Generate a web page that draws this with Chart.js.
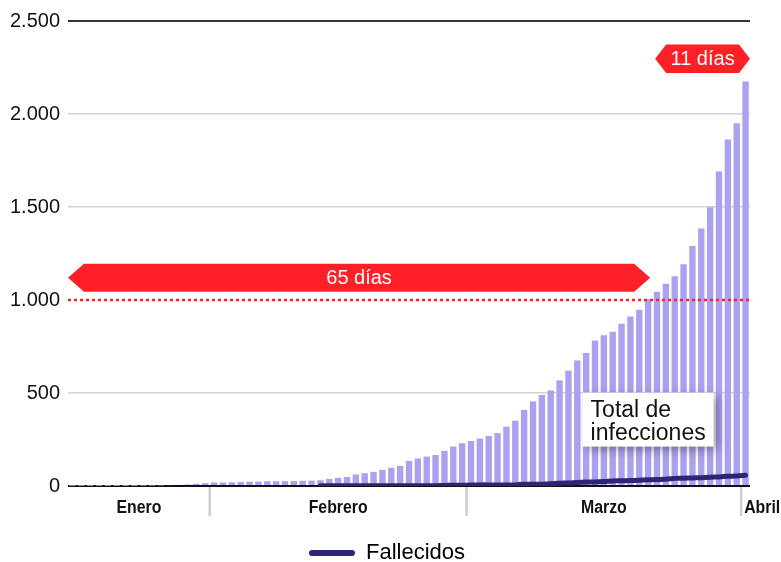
<!DOCTYPE html>
<html>
<head>
<meta charset="utf-8">
<script src="https://cdn.jsdelivr.net/npm/chart.js@4.4.1/dist/chart.umd.min.js"></script>
<style>
  html, body { margin: 0; padding: 0; background: #fff; }
</style>
</head>
<body>
<canvas id="chart" width="781" height="562"></canvas>
<script>
// dias del 16 de enero al 1 de abril
const dias = [
  '16 ene','17 ene','18 ene','19 ene','20 ene','21 ene','22 ene','23 ene','24 ene','25 ene','26 ene','27 ene','28 ene','29 ene','30 ene','31 ene',
  '1 feb','2 feb','3 feb','4 feb','5 feb','6 feb','7 feb','8 feb','9 feb','10 feb','11 feb','12 feb','13 feb','14 feb','15 feb',
  '16 feb','17 feb','18 feb','19 feb','20 feb','21 feb','22 feb','23 feb','24 feb','25 feb','26 feb','27 feb','28 feb','29 feb',
  '1 mar','2 mar','3 mar','4 mar','5 mar','6 mar','7 mar','8 mar','9 mar','10 mar','11 mar','12 mar','13 mar','14 mar','15 mar',
  '16 mar','17 mar','18 mar','19 mar','20 mar','21 mar','22 mar','23 mar','24 mar','25 mar','26 mar','27 mar','28 mar','29 mar','30 mar','31 mar',
  '1 abr'
];

const infecciones = [
  1, 1, 1, 1, 1, 1, 1, 1,
  2, 2, 3, 5, 6, 8, 11, 15,
  19, 19, 20, 22, 23, 24, 26, 26,
  26, 27, 28, 29, 31, 38, 44, 48,
  62, 69, 76, 87, 98, 108, 135, 148,
  158, 167, 189, 212, 230, 242, 255, 269,
  285, 319, 351, 409, 455, 489, 514, 568,
  620, 675, 715, 782, 811, 829, 872, 911,
  947, 1006, 1045, 1088, 1128, 1192, 1290, 1385,
  1498, 1691, 1863, 1950, 2175
];

const fallecidos = [
  null, null, null, null, null, null, null, null, null, null, null, null, null, null,
  null, null, null, null, null, null, null, null, null, null, null, null, null, null,
  1, 1, 1, 1, 1, 1, 1, 1, 1, 1, 1, 1, 1,
  2, 3, 4, 4, 5, 6, 6, 6, 6, 6,
  9, 9, 10, 12, 15, 16, 19, 21, 22, 24,
  27, 28, 29, 31, 33, 35, 36, 41, 42, 43,
  45, 47, 49, 52, 54, 58
];

const yTicks = [0, 500, 1000, 1500, 2000, 2500];
const meses = ['Enero', 'Febrero', 'Marzo', 'Abril'];
const inicioMes = [0, 16, 45, 76];

const ROJO = '#ff1f27';
const MORADO = '#aaa2f0';
const AZUL = '#2c2674';
const FUENTE = '"Liberation Sans", Arial, sans-serif';

function puntos(n) {
  return String(n).replace(/\B(?=(\d{3})+(?!\d))/g, '.');
}

function flecha(ctx, x1, x2, top, bottom, punta, texto) {
  const mid = (top + bottom) / 2;
  ctx.beginPath();
  ctx.moveTo(x1, mid);
  ctx.lineTo(x1 + punta, top);
  ctx.lineTo(x2 - punta, top);
  ctx.lineTo(x2, mid);
  ctx.lineTo(x2 - punta, bottom);
  ctx.lineTo(x1 + punta, bottom);
  ctx.closePath();
  ctx.fillStyle = ROJO;
  ctx.fill();
  ctx.fillStyle = '#fff';
  ctx.font = '20px ' + FUENTE;
  ctx.textAlign = 'center';
  ctx.textBaseline = 'middle';
  ctx.fillText(texto, (x1 + x2) / 2, mid + 1);
}

// texto estrecho para los meses
function textoEstrecho(ctx, txt, x, y, align) {
  const k = 0.88;
  ctx.save();
  ctx.translate(x, y);
  ctx.scale(k, 1);
  ctx.textAlign = align;
  ctx.fillText(txt, 0, 0);
  ctx.restore();
}

const anotaciones = {
  id: 'anotaciones',
  afterLayout(chart) {
    // la leyenda va centrada un poco a la derecha
    if (chart.legend) chart.legend.left = 24;
  },
  afterDatasetsDraw(chart) {
    const { ctx, chartArea, scales: { x, y } } = chart;
    const paso = x.getPixelForValue(1) - x.getPixelForValue(0);
    ctx.save();

    // linea de los 1.000 casos
    ctx.strokeStyle = ROJO;
    ctx.lineWidth = 2.5;
    ctx.setLineDash([3, 3]);
    ctx.beginPath();
    ctx.moveTo(chartArea.left, y.getPixelForValue(1000));
    ctx.lineTo(chartArea.right, y.getPixelForValue(1000));
    ctx.stroke();
    ctx.setLineDash([]);

    // 65 dias / 11 dias
    flecha(ctx, chartArea.left, x.getPixelForValue(65) + 2,
      y.getPixelForValue(1195), y.getPixelForValue(1045), 16, '65 días');
    flecha(ctx, x.getPixelForValue(65) + 7, chartArea.right,
      y.getPixelForValue(2374), y.getPixelForValue(2220), 11, '11 días');

    // caja "Total de infecciones"
    const bx = x.getPixelForValue(57.6), bw = x.getPixelForValue(72.4) - bx;
    const by = y.getPixelForValue(502), bh = y.getPixelForValue(212) - by;
    ctx.shadowColor = 'rgba(0,0,0,0.35)';
    ctx.shadowBlur = 10;
    ctx.shadowOffsetX = 4;
    ctx.shadowOffsetY = 3;
    ctx.fillStyle = '#fff';
    ctx.fillRect(bx, by, bw, bh);
    ctx.shadowColor = 'transparent';
    ctx.fillStyle = '#111';
    ctx.font = '23px ' + FUENTE;
    ctx.textAlign = 'left';
    ctx.textBaseline = 'alphabetic';
    ctx.fillText('Total de', bx + 8, by + 24);
    ctx.fillText('infecciones', bx + 8, by + 47);

    // meses
    ctx.font = 'bold 18px ' + FUENTE;
    ctx.textBaseline = 'middle';
    const base = y.getPixelForValue(0);
    meses.forEach((m, k) => {
      const a = x.getPixelForValue(inicioMes[k]) - paso / 2;
      const b = k + 1 < meses.length ? x.getPixelForValue(inicioMes[k + 1]) - paso / 2 : chartArea.right;
      if (k > 0) {
        ctx.strokeStyle = '#cfcfcf';
        ctx.lineWidth = 2.5;
        ctx.beginPath();
        ctx.moveTo(a, base + 1);
        ctx.lineTo(a, base + 30);
        ctx.stroke();
      }
      ctx.fillStyle = '#111';
      if (k === meses.length - 1) {
        textoEstrecho(ctx, m, a + 3, base + 22, 'left');
      } else {
        textoEstrecho(ctx, m, (a + b) / 2, base + 22, 'center');
      }
    });
    ctx.restore();
  }
};

new Chart(document.getElementById('chart'), {
  type: 'bar',
  data: {
    labels: dias,
    datasets: [
      {
        type: 'line',
        label: 'Fallecidos',
        data: fallecidos,
        borderColor: AZUL,
        backgroundColor: AZUL,
        borderWidth: 5,
        borderCapStyle: 'round',
        pointRadius: 0,
        tension: 0.3,
        order: 0
      },
      {
        label: 'Total de infecciones',
        data: infecciones,
        backgroundColor: MORADO,
        borderWidth: 0,
        categoryPercentage: 1,
        barPercentage: 0.72,
        order: 1
      }
    ]
  },
  options: {
    responsive: false,
    animation: false,
    devicePixelRatio: 1,
    layout: { padding: { top: 21, right: 31, left: 0, bottom: -12 } },
    scales: {
      x: {
        ticks: { display: false },
        grid: { display: false },
        border: { display: false },
        afterFit: s => { s.height = 50; }
      },
      y: {
        min: 0,
        max: 2500,
        afterBuildTicks: s => { s.ticks = yTicks.map(v => ({ value: v })); },
        afterFit: s => { s.width = 68; },
        ticks: {
          padding: 8,
          color: '#111',
          font: { size: 20, family: FUENTE },
          callback: v => puntos(v)
        },
        grid: {
          drawTicks: false,
          tickLength: 0,
          lineWidth: c => (c.tick.value === 2500 || c.tick.value === 0) ? 2 : 1.5,
          color: c => c.tick.value === 2500 ? '#333' : c.tick.value === 0 ? '#111'
            : c.tick.value === 1000 ? 'transparent' : '#d2d2d2'
        },
        border: { display: false }
      }
    },
    plugins: {
      tooltip: { enabled: false },
      legend: {
        position: 'bottom',
        labels: {
          color: '#111',
          font: { size: 22, family: FUENTE },
          boxWidth: 46,
          boxHeight: 6,
          padding: 6,
          useBorderRadius: true,
          borderRadius: 3,
          generateLabels: () => [{
            text: 'Fallecidos', fillStyle: AZUL, strokeStyle: AZUL,
            lineWidth: 0, datasetIndex: 0, borderRadius: 3
          }]
        }
      }
    }
  },
  plugins: [anotaciones]
});
</script>
</body>
</html>
